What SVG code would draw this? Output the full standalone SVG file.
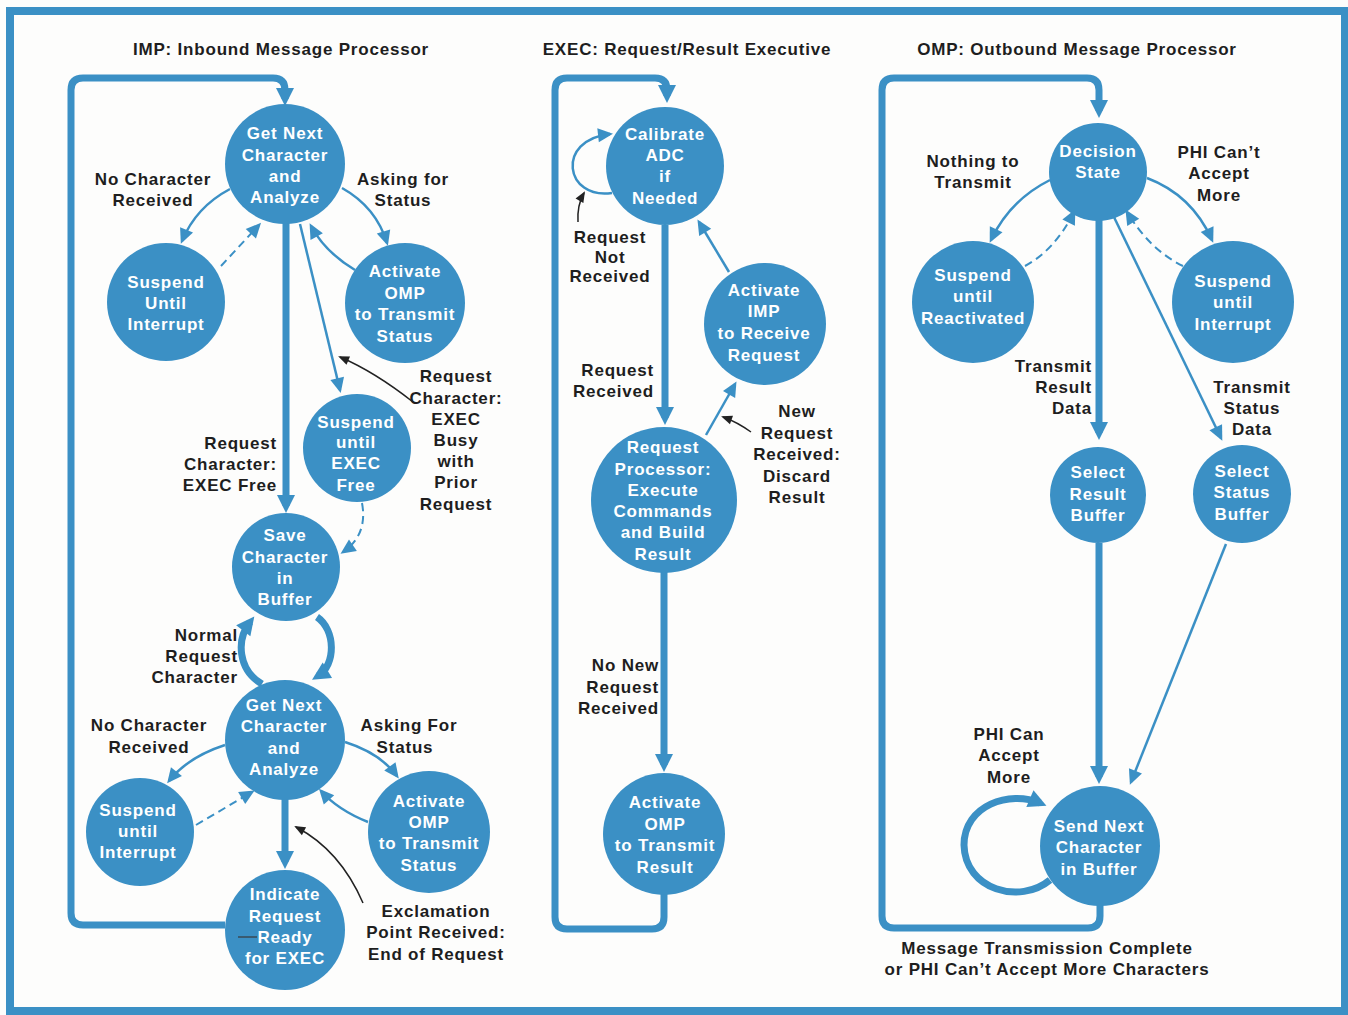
<svg xmlns="http://www.w3.org/2000/svg" width="1348" height="1015" viewBox="0 0 1348 1015">
<style>
text{font-family:"Liberation Sans",Arial,sans-serif;font-weight:bold;font-size:17px;letter-spacing:0.8px}
.t{fill:#1e1e1e}
.n text{fill:#ffffff;text-anchor:middle}
.n circle{fill:#3b90c5}
.c{text-anchor:middle}
.r{text-anchor:end}
.thick{fill:none;stroke:#3b90c5;stroke-width:7;marker-end:url(#big)}
.loop{fill:none;stroke:#3b90c5;stroke-width:7}
.thin{fill:none;stroke:#3b90c5;stroke-width:2.5;marker-end:url(#small)}
.dash{fill:none;stroke:#3b90c5;stroke-width:2;stroke-dasharray:8 5;marker-end:url(#small)}
.ptr{fill:none;stroke:#222;stroke-width:1.5;marker-end:url(#blk)}
</style>
<defs>
<marker id="big" markerUnits="userSpaceOnUse" markerWidth="20" markerHeight="20" refX="11" refY="9" orient="auto" viewBox="0 0 20 20" overflow="visible"><path d="M0,0 L18,9 L0,18 z" fill="#3b90c5"/></marker>
<marker id="small" markerUnits="userSpaceOnUse" markerWidth="16" markerHeight="16" refX="12" refY="7" orient="auto" viewBox="0 0 16 16" overflow="visible"><path d="M0,0 L15,7 L0,14 z" fill="#3b90c5"/></marker>
<marker id="blk" markerUnits="userSpaceOnUse" markerWidth="12" markerHeight="12" refX="9" refY="4.5" orient="auto" viewBox="0 0 12 12" overflow="visible"><path d="M0,0 L11,4.5 L0,9 z" fill="#222"/></marker>
</defs>
<rect x="0" y="0" width="1348" height="1015" fill="#fdfdfc"/>
<rect x="10" y="11" width="1335" height="1000" fill="none" stroke="#3b90c5" stroke-width="8"/>

<g id="titles" class="t">
<text class="c" x="281" y="55">IMP: Inbound Message Processor</text>
<text class="c" x="687" y="55">EXEC: Request/Result Executive</text>
<text class="c" x="1077" y="55">OMP: Outbound Message Processor</text>
</g>

<g id="connectors">
<!-- IMP -->
<path class="thick" d="M225 925 L83 925 Q71 925 71 913 L71 90 Q71 78 83 78 L273 78 Q285 78 285 90 L285 99"/>
<path class="thick" d="M286 223 L286 506"/>
<path class="thick" d="M285 799 L285 862"/>
<path class="thin" d="M230 189 Q196 207 182 241"/>
<path class="dash" d="M221 266 L259 225"/>
<path class="thin" d="M342 188 Q376 207 387 243"/>
<path class="thin" d="M355 270 Q325 252 311 226"/>
<path class="thin" d="M300 224 L340 390"/>
<path class="dash" d="M362 503 Q368 535 343 552"/>
<path class="thick" d="M262 684 C238 670 236 640 250 622"/>
<path class="thick" d="M317 617 C336 630 336 665 318 676"/>
<path class="thin" d="M225 745 Q188 757 169 781"/>
<path class="dash" d="M196 825 L252 792"/>
<path class="thin" d="M345 742 Q380 753 397 776"/>
<path class="thin" d="M368 822 Q338 810 321 791"/>
<path class="ptr" d="M413 402 Q375 372 340 357"/>
<path class="ptr" d="M363 903 Q340 850 296 827"/>
<!-- EXEC -->
<path class="thick" d="M664 894 L664 917 Q664 929 652 929 L567 929 Q555 929 555 917 L555 90 Q555 78 567 78 L655 78 Q667 78 667 90 L667 96"/>
<path class="thick" d="M665 225 L665 418"/>
<path class="thick" d="M664 572 L664 765"/>
<path class="thin" d="M612 193 C565 200 555 140 610 134"/>
<path class="thin" d="M706 435 L735 384"/>
<path class="thin" d="M729 272 L699 222"/>
<path class="ptr" d="M578 222 Q577 205 584 193"/>
<path class="ptr" d="M751 432 Q737 422 723 417"/>
<!-- OMP -->
<path class="thick" d="M1100 905 L1100 916 Q1100 928 1088 928 L894 928 Q882 928 882 916 L882 90 Q882 78 894 78 L1087 78 Q1099 78 1099 90 L1099 111"/>
<path class="thick" d="M1099 220 L1099 433"/>
<path class="thick" d="M1099 543 L1099 777"/>
<path class="thin" d="M1050 180 Q1010 200 991 240"/>
<path class="dash" d="M1025 266 Q1055 250 1074 212"/>
<path class="thin" d="M1147 178 Q1192 195 1212 240"/>
<path class="dash" d="M1183 266 Q1150 250 1127 212"/>
<path class="thin" d="M1112 213 L1221 438"/>
<path class="thin" d="M1226 544 L1131 782"/>
<path class="thick" d="M1050 880 C1020 905 965 890 964 845 C964 805 1010 790 1040 803"/>
</g>

<g id="labels" class="t">
<text class="c" x="153" y="185">No Character</text><text class="c" x="153" y="206">Received</text>
<text class="c" x="403" y="185">Asking for</text><text class="c" x="403" y="206">Status</text>
<text class="r" x="277" y="449">Request</text><text class="r" x="277" y="470">Character:</text><text class="r" x="277" y="491">EXEC Free</text>
<text class="c" x="456" y="382">Request</text><text class="c" x="456" y="404">Character:</text><text class="c" x="456" y="425">EXEC</text><text class="c" x="456" y="446">Busy</text><text class="c" x="456" y="467">with</text><text class="c" x="456" y="488">Prior</text><text class="c" x="456" y="510">Request</text>
<text class="r" x="238" y="641">Normal</text><text class="r" x="238" y="662">Request</text><text class="r" x="238" y="683">Character</text>
<text class="c" x="149" y="731">No Character</text><text class="c" x="149" y="753">Received</text>
<text class="c" x="409" y="731">Asking For</text><text class="c" x="405" y="753">Status</text>
<text class="c" x="436" y="917">Exclamation</text><text class="c" x="436" y="938">Point Received:</text><text class="c" x="436" y="960">End of Request</text>
<text class="c" x="610" y="243">Request</text><text class="c" x="610" y="263">Not</text><text class="c" x="610" y="282">Received</text>
<text class="r" x="654" y="376">Request</text><text class="r" x="654" y="397">Received</text>
<text class="c" x="797" y="417">New</text><text class="c" x="797" y="439">Request</text><text class="c" x="797" y="460">Received:</text><text class="c" x="797" y="482">Discard</text><text class="c" x="797" y="503">Result</text>
<text class="r" x="659" y="671">No New</text><text class="r" x="659" y="693">Request</text><text class="r" x="659" y="714">Received</text>
<text class="c" x="973" y="167">Nothing to</text><text class="c" x="973" y="188">Transmit</text>
<text class="c" x="1219" y="158">PHI Can’t</text><text class="c" x="1219" y="179">Accept</text><text class="c" x="1219" y="201">More</text>
<text class="r" x="1092" y="372">Transmit</text><text class="r" x="1092" y="393">Result</text><text class="r" x="1092" y="414">Data</text>
<text class="c" x="1252" y="393">Transmit</text><text class="c" x="1252" y="414">Status</text><text class="c" x="1252" y="435">Data</text>
<text class="c" x="1009" y="740">PHI Can</text><text class="c" x="1009" y="761">Accept</text><text class="c" x="1009" y="783">More</text>
<text class="c" x="1047" y="954">Message Transmission Complete</text><text class="c" x="1047" y="975">or PHI Can’t Accept More Characters</text>
</g>

<g id="imp-get1" class="n"><circle cx="285" cy="164" r="60"/><text x="285" y="139">Get Next</text><text x="285" y="161">Character</text><text x="285" y="182">and</text><text x="285" y="203">Analyze</text></g>
<g id="imp-suspend1" class="n"><circle cx="166" cy="302" r="59"/><text x="166" y="288">Suspend</text><text x="166" y="309">Until</text><text x="166" y="330">Interrupt</text></g>
<g id="imp-activate1" class="n"><circle cx="405" cy="303" r="60"/><text x="405" y="277">Activate</text><text x="405" y="299">OMP</text><text x="405" y="320">to Transmit</text><text x="405" y="342">Status</text></g>
<g id="imp-suspend-exec" class="n"><circle cx="357" cy="448" r="54"/><text x="356" y="428">Suspend</text><text x="356" y="448">until</text><text x="356" y="469">EXEC</text><text x="356" y="491">Free</text></g>
<g id="imp-save" class="n"><circle cx="286" cy="567" r="54"/><text x="285" y="541">Save</text><text x="285" y="563">Character</text><text x="285" y="584">in</text><text x="285" y="605">Buffer</text></g>
<g id="imp-get2" class="n"><circle cx="285" cy="740" r="60"/><text x="284" y="711">Get Next</text><text x="284" y="732">Character</text><text x="284" y="754">and</text><text x="284" y="775">Analyze</text></g>
<g id="imp-suspend2" class="n"><circle cx="140" cy="832" r="54"/><text x="138" y="816">Suspend</text><text x="138" y="837">until</text><text x="138" y="858">Interrupt</text></g>
<g id="imp-activate2" class="n"><circle cx="429" cy="832" r="61"/><text x="429" y="807">Activate</text><text x="429" y="828">OMP</text><text x="429" y="849">to Transmit</text><text x="429" y="871">Status</text></g>
<g id="imp-indicate" class="n"><circle cx="285" cy="930" r="60"/><text x="285" y="900">Indicate</text><text x="285" y="922">Request</text><text x="285" y="943">Ready</text><text x="285" y="964">for EXEC</text><line x1="238" y1="937" x2="257" y2="937" stroke="#3a4a55" stroke-width="1.5"/></g>

<g id="exec-calibrate" class="n"><circle cx="665" cy="166" r="59"/><text x="665" y="140">Calibrate</text><text x="665" y="161">ADC</text><text x="665" y="182">if</text><text x="665" y="204">Needed</text></g>
<g id="exec-activate-imp" class="n"><circle cx="765" cy="324" r="61"/><text x="764" y="296">Activate</text><text x="764" y="317">IMP</text><text x="764" y="339">to Receive</text><text x="764" y="361">Request</text></g>
<g id="exec-processor" class="n"><circle cx="664" cy="500" r="73"/><text x="663" y="453">Request</text><text x="663" y="475">Processor:</text><text x="663" y="496">Execute</text><text x="663" y="517">Commands</text><text x="663" y="538">and Build</text><text x="663" y="560">Result</text></g>
<g id="exec-activate-omp" class="n"><circle cx="664" cy="834" r="61"/><text x="665" y="808">Activate</text><text x="665" y="830">OMP</text><text x="665" y="851">to Transmit</text><text x="665" y="873">Result</text></g>

<g id="omp-decision" class="n"><circle cx="1098" cy="172" r="49"/><text x="1098" y="157">Decision</text><text x="1098" y="178">State</text></g>
<g id="omp-suspend-react" class="n"><circle cx="973" cy="302" r="61"/><text x="973" y="281">Suspend</text><text x="973" y="302">until</text><text x="973" y="324">Reactivated</text></g>
<g id="omp-suspend-int" class="n"><circle cx="1233" cy="302" r="61"/><text x="1233" y="287">Suspend</text><text x="1233" y="308">until</text><text x="1233" y="330">Interrupt</text></g>
<g id="omp-result-buf" class="n"><circle cx="1098" cy="495" r="48"/><text x="1098" y="478">Select</text><text x="1098" y="500">Result</text><text x="1098" y="521">Buffer</text></g>
<g id="omp-status-buf" class="n"><circle cx="1242" cy="494" r="49"/><text x="1242" y="477">Select</text><text x="1242" y="498">Status</text><text x="1242" y="520">Buffer</text></g>
<g id="omp-send" class="n"><circle cx="1100" cy="846" r="60"/><text x="1099" y="832">Send Next</text><text x="1099" y="853">Character</text><text x="1099" y="875">in Buffer</text></g>
</svg>
